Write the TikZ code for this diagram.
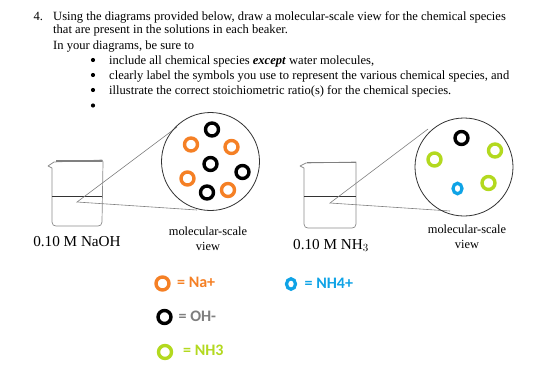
\documentclass[tikz,border=0pt]{standalone}
\usepackage{fontspec}
\setmainfont{Liberation Serif}
\newfontfamily\legendfont{Carlito}
\definecolor{naorange}{HTML}{F58025}
\definecolor{ammgreen}{HTML}{B3D91F}
\definecolor{ammblue}{HTML}{0FA3E6}
\definecolor{hydgrey}{HTML}{7F7F7F}
\usetikzlibrary{shapes.geometric}
\tikzset{
  x=1pt,y=-1pt,
  ring/.style={circle,draw=#1,line width=3.4pt,minimum size=13pt,inner sep=0pt},
  smallring/.style={ellipse,draw=#1,line width=3.2pt,minimum width=9pt,minimum height=10.5pt,inner sep=0pt},
  zoomcircle/.style={circle,draw=black!80,line width=0.8pt,minimum size=98pt,inner sep=0pt},
  zoomline/.style={draw=black!50,line width=0.6pt},
  glass/.style={draw=black!45,line width=0.7pt,line join=round},
  rim/.style={draw=black!50,line width=1.2pt},
  liquid/.style={draw=black!80,line width=1pt},
  body/.style={anchor=base west,inner sep=0pt,font=\fontsize{12.56}{14}\selectfont},
  bullet/.style={circle,fill=black,inner sep=0pt,minimum size=4.2pt},
  caption/.style={align=center,inner sep=0pt,font=\fontsize{12.4}{15}\selectfont},
  conc/.style={anchor=base,inner sep=0pt,font=\fontsize{15.2}{17}\selectfont},
  legend/.style={anchor=west,inner sep=0pt,font=\legendfont\bfseries\fontsize{16}{18}\selectfont},
}
\begin{document}
\begin{tikzpicture}
\useasboundingbox (0,0) rectangle (560,372);
\fill[white] (0,0) rectangle (560,372);

% Question text
\node[body] (qnum) at (33.5,20) {4.};
\node[body] (q1) at (53,20) {Using the diagrams provided below, draw a molecular-scale view for the chemical species};
\node[body] (q2) at (53,34) {that are present in the solutions in each beaker.};
\node[body] (q3) at (53,49) {In your diagrams, be sure to};
\node[body] (i1) at (109,64) {include all chemical species \textbf{\textit{except}} water molecules,};
\node[body] (i2) at (109,79) {clearly label the symbols you use to represent the various chemical species, and};
\node[body] (i3) at (109,94) {illustrate the correct stoichiometric ratio(s) for the chemical species.};
\node[bullet] (b1) at (93,60) {};
\node[bullet] (b2) at (93,75) {};
\node[bullet] (b3) at (93,90) {};
\node[bullet] (b4) at (93,105.5) {};

% First beaker
\draw[glass] (48,166) -- (54,162) -- (102,160) -- (103,162) -- (102,222)
  .. controls (102,225) and (100,226) .. (98,226) -- (56,226)
  .. controls (54,226) and (52,225) .. (52,222) -- (52,168) -- (48,166) -- cycle;
\draw[rim] (56,161) -- (102,161);
\coordinate (bl1) at (52,196);
\coordinate (br1) at (102,196);
\draw[liquid] (bl1) -- (br1);

% First zoom view
\coordinate (apex1) at (77,202);
\coordinate (up1) at (177,127);
\coordinate (lo1) at (197,210);
\draw[zoomline] (up1) -- (apex1) -- (lo1);
\node[zoomcircle] (view1) at (210.5,161.5) {};
\node[ring=black] (a1) at (212,129.5) {};
\node[ring=black] (a2) at (210.5,164) {};
\node[ring=black] (a3) at (242.5,172) {};
\node[ring=black] (a4) at (207,192.5) {};
\node[ring=naorange] (a5) at (191,144.5) {};
\node[ring=naorange] (a6) at (231.5,147) {};
\node[ring=naorange] (a7) at (187.5,178.5) {};
\node[ring=naorange] (a8) at (228,190) {};

% Second beaker
\draw[glass] (300,166) -- (306,163) -- (356,162) -- (356,224)
  .. controls (356,227) and (354,228) .. (352,228) -- (308,228)
  .. controls (306,228) and (304,227) .. (304,224) -- (304,168) -- (300,166) -- cycle;
\draw[rim] (307,162.5) -- (356,162.5);
\coordinate (bl2) at (304,196);
\coordinate (br2) at (356,196);
\draw[liquid] (bl2) -- (br2);

% Second zoom view
\coordinate (apex2) at (330,203);
\coordinate (up2) at (428,129);
\coordinate (lo2) at (450,211);
\draw[zoomline] (up2) -- (apex2) -- (lo2);
\node[zoomcircle] (view2) at (464,167) {};
\node[ring=black] (c1) at (461.5,138) {};
\node[ring=ammgreen] (c2) at (434.5,159.5) {};
\node[ring=ammgreen] (c3) at (495,150.5) {};
\node[ring=ammgreen] (c4) at (488.5,183) {};
\node[smallring=ammblue] (c5) at (457.5,188.5) {};

% Captions
\node[conc] (n1) at (77,246) {0.10 M NaOH};
\node[conc] (n2) at (331,249) {0.10 M NH$_3$};
\node[caption] (v1) at (208,238.5) {molecular-scale\\view};
\node[caption] (v2) at (467,237) {molecular-scale\\view};

% Legend
\node[ring=naorange] (k1) at (162.5,283.5) {};
\node[legend,text=naorange] (t1) at (177,282.5) {= Na+};
\node[ring=black] (k2) at (164.5,317) {};
\node[legend,text=hydgrey] (t2) at (178.5,316) {= OH-};
\node[ring=ammgreen] (k3) at (165,352) {};
\node[legend,text=ammgreen] (t3) at (183,350) {= NH3};
\node[smallring=ammblue] (k4) at (291,284) {};
\node[legend,text=ammblue] (t4) at (304.5,283) {= NH4+};
\end{tikzpicture}
\end{document}
